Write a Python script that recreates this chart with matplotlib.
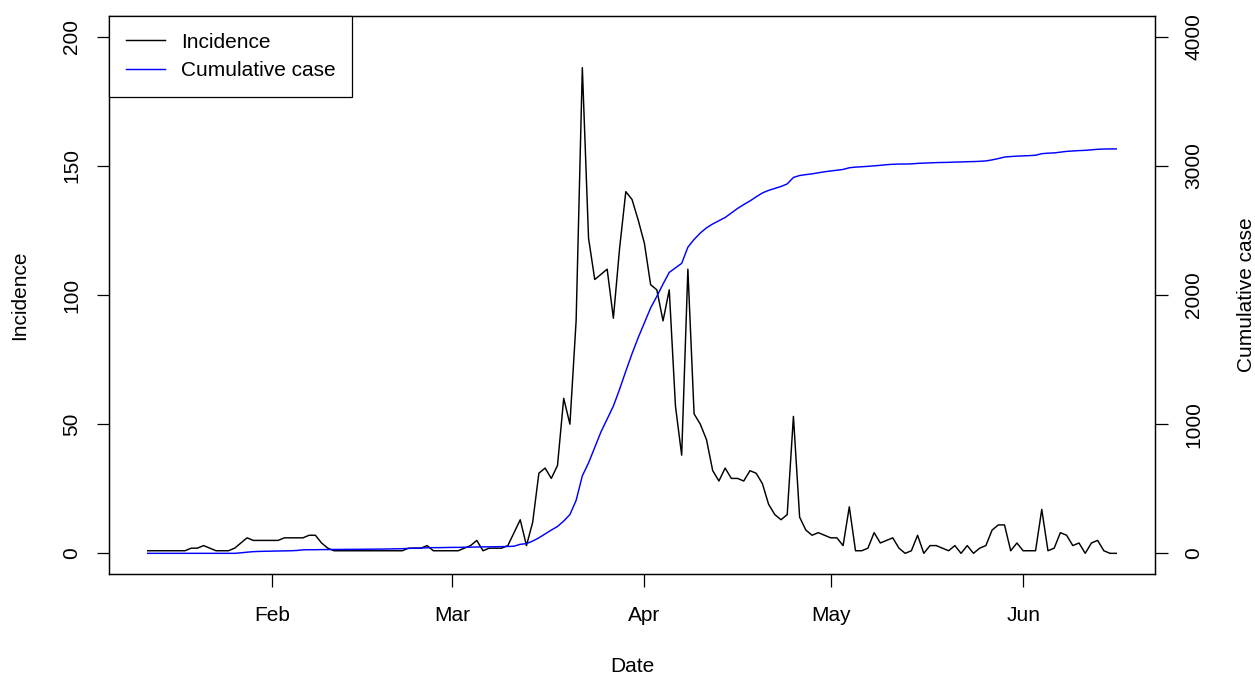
import numpy as np
import pandas as pd
import matplotlib
matplotlib.use("Agg")
import matplotlib.pyplot as plt
import matplotlib.dates as mdates

plt.rcParams['font.family'] = ['Liberation Sans', 'DejaVu Sans']

# DATOS (diarios desde 2020-01-12)
FECHA_INICIO = '2020-01-12'

incidencia = [
    1, 1, 1, 1, 1, 1, 1,
    2, 2, 3, 2,
    1, 1, 1,
    2, 4, 6, 5, 5, 5, 5, 5, 6, 6, 6, 6, 7, 7,
    4, 2,
    1, 1, 1, 1, 1, 1, 1, 1, 1, 1, 1, 1,
    2, 2, 2,
    3,
    1, 1, 1, 1, 1,
    2, 3, 5, 1,
    2, 2, 2, 3, 8, 13, 3, 12, 31, 33, 29, 34, 60, 50, 90,
    188, 122, 106, 108, 110, 91, 118, 140, 137, 129, 120, 104, 102, 90, 102, 57, 38, 110, 54,
    50, 44, 32, 28, 33, 29, 29, 28, 32, 31, 27, 19, 15, 13, 15, 53,
    14, 9, 7, 8, 7, 6, 6, 3, 18, 1, 1, 2, 8, 4, 5, 6, 2, 0, 1, 7, 0, 3, 3, 2, 1, 3,
    0, 3, 0, 2, 3, 9, 11, 11, 1, 4, 1, 1, 1, 17, 1, 2, 8, 7, 3, 4, 0, 4, 5, 1, 0, 0,
]

acumulado = [
    0, 0, 0, 0, 0, 0, 0, 0, 0, 0, 0, 0, 0, 0, 0,
    4, 9, 13, 15, 16, 17, 18, 19, 20, 22,
    27, 28, 28, 29, 29, 30, 30, 31, 31, 31,
    32, 32, 33, 33, 34, 35, 36, 38, 40, 41,
    43, 44, 44, 45, 46, 46, 47, 48, 49, 50,
    50, 51, 52, 53, 55, 70, 75, 95, 120, 150,
    180, 208, 250, 300, 410, 600, 700, 820, 940, 1040,
    1140, 1270, 1410, 1545, 1670, 1785, 1900, 1990, 2085, 2175,
    2210, 2245, 2370, 2430, 2480, 2520, 2550, 2575, 2600, 2635,
    2670, 2700, 2728, 2760, 2790, 2810, 2825, 2840, 2860, 2910,
    2925, 2932, 2938, 2946, 2954, 2960, 2966, 2972, 2985, 2990,
    2993, 2996, 3000, 3004, 3009, 3012, 3014, 3014, 3015, 3019,
    3021, 3023, 3025, 3026, 3027, 3029, 3030, 3032, 3033, 3035,
    3038, 3046, 3056, 3068, 3072, 3075, 3077, 3079, 3082, 3094,
    3098, 3100, 3106, 3112, 3115, 3118, 3120, 3124, 3128, 3130,
    3131, 3131,
]

ticks_izq = [0, 50, 100, 150, 200]
ticks_der = [0, 1000, 2000, 3000, 4000]

fechas = pd.date_range(FECHA_INICIO, periods=len(incidencia), freq='D')

# FIGURA
W, H = 1255, 676
fig = plt.figure(figsize=(W / 100, H / 100), dpi=100)

x0, x1, y0, y1 = 109, 1155, 16, 574
ax = fig.add_axes([x0 / W, 1 - y1 / H, (x1 - x0) / W, (y1 - y0) / H])

l1, = ax.plot(fechas, incidencia, color='black', lw=1.05, label='Incidence')

# margen 4% como R
extra = pd.Timedelta(days=0.04 * (len(fechas) - 1))
ax.set_xlim(fechas[0] - extra, fechas[-1] + extra)
ax.set_ylim(-8, 208)
ax.set_yticks(ticks_izq)

ax.xaxis.set_major_locator(mdates.MonthLocator())
ax.xaxis.set_major_formatter(mdates.DateFormatter('%b'))

ax2 = ax.twinx()
l2, = ax2.plot(fechas, acumulado, color='#0000ff', lw=1.05, label='Cumulative case')
ax2.set_ylim(-160, 4160)
ax2.set_yticks(ticks_der)

for a in (ax, ax2):
    for s in a.spines.values():
        s.set_linewidth(0.9)
        s.set_color('black')
    a.tick_params(axis='both', length=9, width=0.9, labelsize=15, pad=12)

ax.tick_params(axis='x', pad=14)
ax.tick_params(axis='y', pad=11)
for lab in ax.get_yticklabels() + ax2.get_yticklabels():
    lab.set_rotation(90)
    lab.set_va('center')

# TEXTOS DE EJES
fig.text(632 / W, 1 - 666 / H, 'Date', ha='center', va='center', fontsize=15)
fig.text(20 / W, 1 - 295 / H, 'Incidence', ha='center', va='center',
         rotation=90, fontsize=15)
fig.text(1246 / W, 1 - 295 / H, 'Cumulative case', ha='center', va='center',
         rotation=90, fontsize=15)

# LEYENDA
ley = ax2.legend([l1, l2], ['Incidence', 'Cumulative case'], loc='upper left',
                 borderaxespad=0, fancybox=False, framealpha=1, edgecolor='black',
                 fontsize=15, handlelength=1.9, handletextpad=0.75,
                 borderpad=0.8, labelspacing=0.45)
ley.get_frame().set_linewidth(0.9)

fig.savefig('out.png', dpi=100)
